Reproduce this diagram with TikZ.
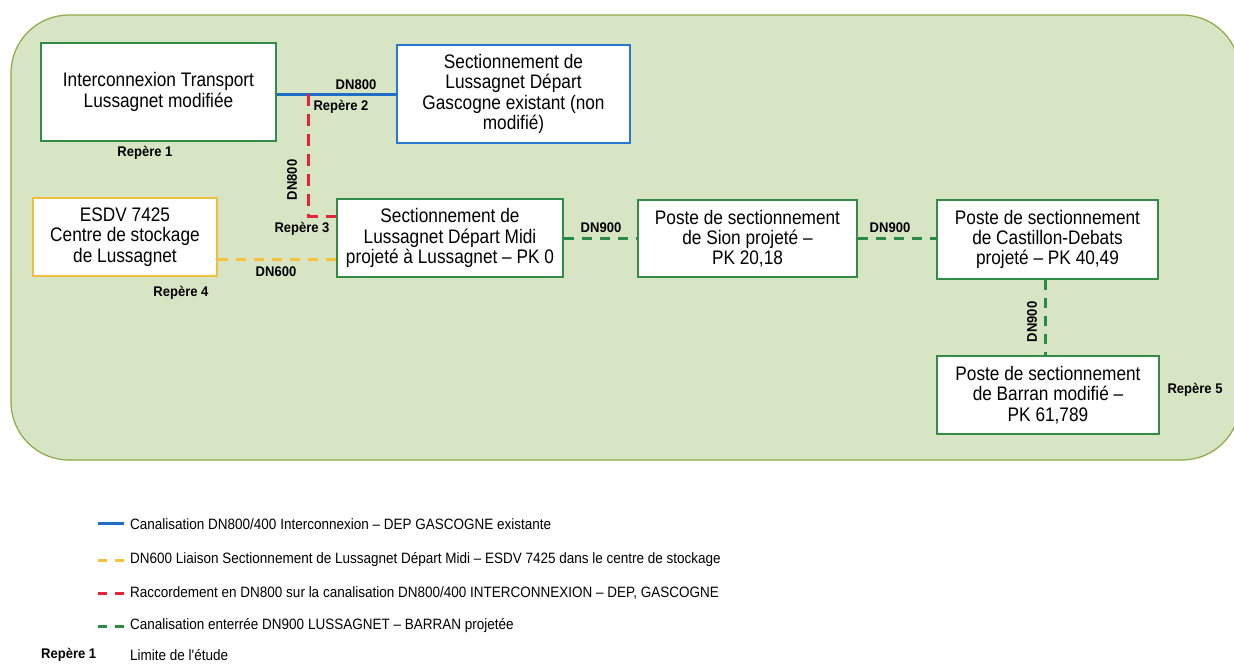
\documentclass[tikz,border=0pt]{standalone}
\usepackage{fontspec}
\setmainfont{Liberation Sans}
\newfontfamily\boxfont[FakeStretch=0.88]{Liberation Sans}
\newfontfamily\legfont[FakeStretch=0.9]{Liberation Sans}
\newfontfamily\lblfont[FakeStretch=0.93]{Liberation Sans}
\definecolor{bgfill}{RGB}{216,229,196}
\definecolor{bgline}{RGB}{140,170,70}
\definecolor{boxgreen}{RGB}{50,140,70}
\definecolor{boxblue}{RGB}{40,120,210}
\definecolor{boxorange}{RGB}{240,190,60}
\definecolor{pipeblue}{RGB}{30,110,200}
\definecolor{pipeorange}{RGB}{245,195,60}
\definecolor{pipered}{RGB}{230,35,55}
\definecolor{pipegreen}{RGB}{40,140,70}
\tikzset{
  stbox/.style={draw=boxgreen, line width=1.4pt, fill=white, align=center, inner sep=0pt,
    font=\boxfont\fontsize{19.6}{20.2}\selectfont},
  lbl/.style={font=\lblfont\bfseries\fontsize{14}{16}\selectfont, inner sep=1pt},
  leg/.style={font=\legfont\fontsize{15}{17}\selectfont, anchor=west, inner sep=0pt},
  pblue/.style={draw=pipeblue, line width=3pt},
  porange/.style={draw=pipeorange, line width=3pt, dash pattern=on 10pt off 8pt},
  pred/.style={draw=pipered, line width=3pt, dash pattern=on 12pt off 8pt},
  pgreen/.style={draw=pipegreen, line width=3pt, dash pattern=on 10pt off 8pt},
}
\begin{document}
\begin{tikzpicture}[x=1pt,y=-1pt]
\useasboundingbox (0,0) rectangle (1234,664);
\fill[white] (0,0) rectangle (1234,664);
\draw[bgline, fill=bgfill, line width=1.2pt, rounded corners=58pt] (11,15) rectangle (1240,460);

% boxes
\node[stbox, minimum width=235pt, minimum height=98pt] (ic) at (158.5,92) {Interconnexion Transport\\Lussagnet modifiée};
\node[stbox, draw=boxblue, minimum width=233pt, minimum height=98pt] (gas) at (513.5,94) {Sectionnement de\\Lussagnet Départ\\Gascogne existant (non\\modifié)};
\node[stbox, draw=boxorange, minimum width=184pt, minimum height=78pt] (esdv) at (125,237) {ESDV 7425\\Centre de stockage\\de Lussagnet};
\node[stbox, minimum width=226pt, minimum height=78pt] (midi) at (450,238) {Sectionnement de\\Lussagnet Départ Midi\\projeté à Lussagnet – PK 0};
\node[stbox, minimum width=219pt, minimum height=77pt] (sion) at (747.5,238.5) {Poste de sectionnement\\de Sion projeté –\\PK 20,18};
\node[stbox, minimum width=221pt, minimum height=79pt] (cast) at (1047.5,239.5) {Poste de sectionnement\\de Castillon-Debats\\projeté – PK 40,49};
\node[stbox, minimum width=222pt, minimum height=78pt] (barr) at (1048,395) {Poste de sectionnement\\de Barran modifié –\\PK 61,789};

% connectors
\coordinate (j2) at (308,94);
\coordinate (c3) at (308,216);
\draw[pblue] (ic.east |- 0,94) -- (gas.west |- 0,94);
\draw[pred] (j2) -- (c3) -- (midi.west |- c3);
\draw[porange] (esdv.east |- 0,259) -- (midi.west |- 0,259);
\draw[pgreen] (midi.east |- 0,238) -- (sion.west |- 0,238);
\draw[pgreen] (sion.east |- 0,238) -- (cast.west |- 0,238);
\draw[pgreen] (cast.south -| 1045,0) -- (barr.north -| 1045,0);

% labels
\node[lbl] (l1) at (356,85) {DN800};
\node[lbl] (r2) at (341,107) {Repère 2};
\node[lbl, rotate=90] (l2) at (292,180) {DN800};
\node[lbl] (r3) at (302,229) {Repère 3};
\node[lbl] (l3) at (276,272) {DN600};
\node[lbl] (r4) at (181,293) {Repère 4};
\node[lbl] (r1) at (145,153) {Repère 1};
\node[lbl] (l4) at (601,228) {DN900};
\node[lbl] (l5) at (890,228) {DN900};
\node[lbl, rotate=90] (l6) at (1032,322) {DN900};
\node[lbl] (r5) at (1195,390) {Repère 5};

% legend
\coordinate (a1) at (98,523); \coordinate (b1) at (124,523);
\coordinate (a2) at (98,560); \coordinate (b2) at (124,560);
\coordinate (a3) at (98,593); \coordinate (b3) at (124,593);
\coordinate (a4) at (98,626); \coordinate (b4) at (124,626);
\draw[pblue] (a1) -- (b1);
\draw[draw=pipeorange, line width=3pt, dash pattern=on 9pt off 8pt] (a2) -- (b2);
\draw[draw=pipered, line width=3pt, dash pattern=on 9pt off 8pt] (a3) -- (b3);
\draw[draw=pipegreen, line width=3pt, dash pattern=on 9pt off 8pt] (a4) -- (b4);
\node[leg] (t1) at (130,524) {Canalisation DN800/400 Interconnexion – DEP GASCOGNE existante};
\node[leg] (t2) at (130,560) {DN600 Liaison Sectionnement de Lussagnet Départ Midi – ESDV 7425 dans le centre de stockage};
\node[leg] (t3) at (130,593) {Raccordement en DN800 sur la canalisation DN800/400 INTERCONNEXION – DEP, GASCOGNE};
\node[leg] (t4) at (130,626) {Canalisation enterrée DN900 LUSSAGNET – BARRAN projetée};
\node[lbl, anchor=west] (r0) at (40,655) {Repère 1};
\node[leg] (t5) at (130,655) {Limite de l'étude};
\end{tikzpicture}
\end{document}
